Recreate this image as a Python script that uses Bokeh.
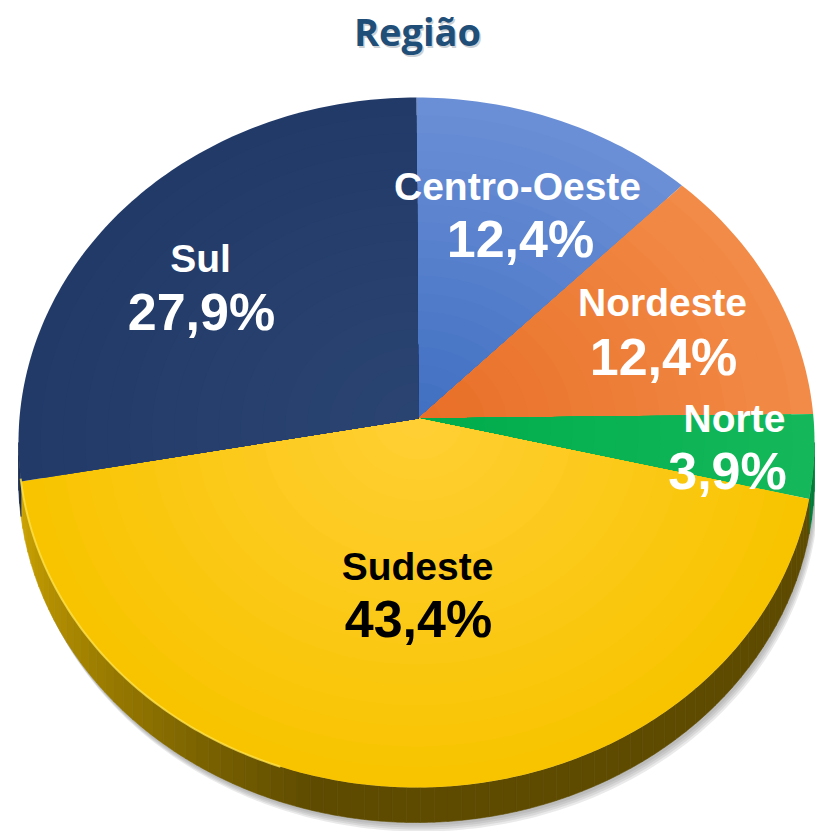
import numpy as np
from bokeh.plotting import figure
from bokeh.models import Range1d, ColumnDataSource
from bokeh.embed import file_html
from bokeh.resources import INLINE
from bokeh.core.properties import value

# ---------------- data ----------------
title_text = "Região"
regions = ["Centro-Oeste", "Nordeste", "Norte", "Sudeste", "Sul"]
shares = [12.4, 12.4, 3.9, 43.4, 27.9]
pct_labels = ["12,4%", "12,4%", "3,9%", "43,4%", "27,9%"]

# ---------------- styles / layout ----------------
rim_colors = ["#6A8FD6", "#F28B47", "#14B85A", "#F8C400", "#223A68"]
apex_colors = ["#4270C2", "#E86F27", "#00AC4C", "#FFCF33", "#2A4472"]
side_colors = ["#2F5597", "#B45A1A", "#007A38", "#5E4B00", "#1A2C50"]
label_colors = ["white", "white", "white", "black", "white"]
name_pos = [(517, 198), (662, 314), (734, 430), (417, 578), (200, 270)]
pct_pos = [(520, 254), (663, 372), (727, 486), (418, 634), (201, 327)]
NAME_SIZE, PCT_SIZE, TITLE_SIZE = 39, 52, 38
BASE_SHIFT = 0.30      # em correction for baseline placement

W, H = 815, 831
CX, CY = 416, 442      # ellipse centre (page pixels)
RX, RY = 398, 345      # ellipse radii
AX, AY = 418, 418      # pie apex (perspective centre)
THICK = 35
SKEW = 4.0             # perspective angle distortion (deg)
FONT = "Liberation Sans"


def to_phi(theta):
    return theta + SKEW * np.cos(np.radians(theta))


def rim_phi(phi):
    f = np.radians(phi)
    return CX + RX * np.cos(f), CY - RY * np.sin(f)


def hex2rgb(h):
    h = h.lstrip("#")
    return np.array([int(h[i:i + 2], 16) for i in (0, 2, 4)], dtype=float)


def mix(c1, c2, t):
    c = hex2rgb(c1) * (1 - t) + hex2rgb(c2) * t
    return "#%02x%02x%02x" % tuple(int(round(v)) for v in c)


p = figure(width=W, height=H, output_backend="svg", toolbar_location=None,
           x_range=Range1d(0, W), y_range=Range1d(H, 0),
           min_border=0, outline_line_color=None)
p.axis.visible = False
p.grid.visible = False
p.background_fill_color = "white"
p.border_fill_color = "white"

# angles of slices (clockwise from top)
shares_arr = np.array(shares, dtype=float)
ends = 90 - 3.6 * np.cumsum(shares_arr)
starts = np.concatenate([[90], ends[:-1]])

# ---------------- shadow ----------------
ph_low = np.linspace(180, 360, 200)
lx, ly = rim_phi(ph_low)
for k, d in enumerate([9, 7, 5, 3]):
    xs = np.concatenate([lx + d * 0.5, (lx + d * 0.5)[::-1]])
    ys = np.concatenate([ly, (ly + THICK + d)[::-1]])
    p.patch(xs, ys, fill_color="#7f7f7f", fill_alpha=0.16, line_color=None)

# ---------------- side band ----------------
sx, sy, sc = [], [], []
for i in range(len(shares)):
    a0, a1 = to_phi(starts[i]), to_phi(ends[i])
    lo, hi = min(a0, a1), max(a0, a1)
    for off in (0, 360, -360):
        l2, h2 = max(lo + off, 180), min(hi + off, 360)
        if h2 <= l2:
            continue
        segs = max(2, int((h2 - l2) / 2))
        edges = np.linspace(l2, h2, segs + 1)
        for j in range(segs):
            f = np.linspace(edges[j], edges[j + 1], 6)
            x, y = rim_phi(f)
            sx.append(list(np.concatenate([x, x[::-1]])))
            sy.append(list(np.concatenate([y, (y + THICK)[::-1]])))
            mid = 0.5 * (edges[j] + edges[j + 1])
            if i == 3:
                t = np.clip((mid - 185) / 70.0, 0, 1)
                sc.append(mix("#D2A800", side_colors[i], t))
            else:
                sc.append(side_colors[i])
p.patches(sx, sy, fill_color=sc, line_color=sc, line_width=0.6)

# ---------------- top face (radial shading) ----------------
px_, py_, pc = [], [], []
N = 18
for i in range(len(shares)):
    th = np.linspace(starts[i], ends[i], max(8, int(abs(starts[i] - ends[i]))))
    rx_, ry_ = rim_phi(to_phi(th))
    for k in range(N):
        s = 1 - k / N
        x = AX + s * (rx_ - AX)
        y = AY + s * (ry_ - AY)
        px_.append([AX] + list(x))
        py_.append([AY] + list(y))
        pc.append(mix(rim_colors[i], apex_colors[i], k / (N - 1)))
p.patches(px_, py_, fill_color=pc, line_color=None)

# rim highlight on lower edge
hx, hy = rim_phi(np.linspace(186, 250, 80))
p.line(hx, hy, line_color="#FFE24A", line_width=2, line_alpha=0.8)

# ---------------- labels ----------------
src_n = ColumnDataSource(dict(x=[q[0] for q in name_pos],
                              y=[q[1] - BASE_SHIFT * NAME_SIZE for q in name_pos],
                              t=regions, c=label_colors))
src_p = ColumnDataSource(dict(x=[q[0] for q in pct_pos],
                              y=[q[1] - BASE_SHIFT * PCT_SIZE for q in pct_pos],
                              t=pct_labels, c=label_colors))
p.text("x", "y", text="t", source=src_n, text_color="c", text_font=value(FONT),
       text_font_style="bold", text_font_size=f"{NAME_SIZE}px", text_align="center",
       text_baseline="alphabetic")
p.text("x", "y", text="t", source=src_p, text_color="c", text_font=value(FONT),
       text_font_style="bold", text_font_size=f"{PCT_SIZE}px", text_align="center",
       text_baseline="alphabetic")

# ---------------- title ----------------
ty = 42 - BASE_SHIFT * TITLE_SIZE
p.text([418.5], [ty + 1.5], text=[title_text], text_color="#9aa4ae", text_alpha=0.5,
       text_font=value("Open Sans"), text_font_style="bold",
       text_font_size=f"{TITLE_SIZE}px", text_align="center", text_baseline="alphabetic")
p.text([417], [ty], text=[title_text], text_color="#1F4E79",
       text_font=value("Open Sans"), text_font_style="bold",
       text_font_size=f"{TITLE_SIZE}px", text_align="center", text_baseline="alphabetic")

open("out.html", "w").write(file_html(p, INLINE))
